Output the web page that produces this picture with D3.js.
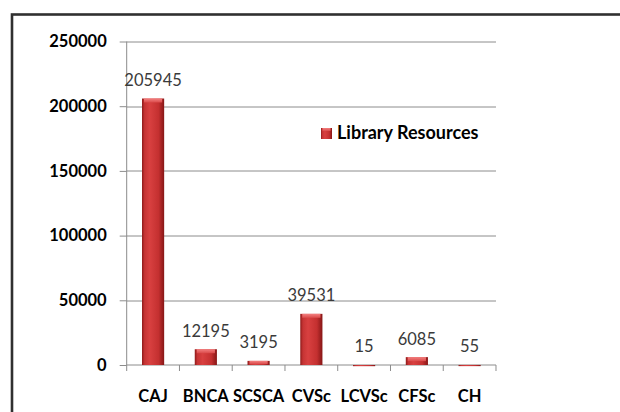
<html>
<head>
<meta charset="utf-8">
<title>Library Resources</title>
<style>
  body { margin: 0; background: #fff; }
  .grid line { stroke: #8c8c8c; stroke-width: 1; }
  .axis path, .axis line { stroke: #8c8c8c; }
  .ylab text, .xlab text { font-family: Lato, sans-serif; font-weight: bold; font-size: 16.5px; fill: #000; }
  .val { font-family: Lato, sans-serif; font-size: 16.5px; fill: #3a3a3a; text-anchor: middle; }
</style>
</head>
<body>
<script src="https://d3js.org/d3.v7.min.js"></script>
<script>
var categories = ["CAJ", "BNCA", "SCSCA", "CVSc", "LCVSc", "CFSc", "CH"];
var values = [205945, 12195, 3195, 39531, 15, 6085, 55];
var yTicks = [0, 50000, 100000, 150000, 200000, 250000];
var seriesName = "Library Resources";

var margin = {top: 41.5, left: 126.7},
    width = 369.3,
    height = 323.5;

var svg = d3.select("body").append("svg")
    .attr("width", 620)
    .attr("height", 412);

// outer frame (runs off the right and bottom of the picture)
svg.append("rect")
    .attr("x", 12).attr("y", 14.5)
    .attr("width", 700).attr("height", 500)
    .attr("fill", "none")
    .attr("stroke", "#303030")
    .attr("stroke-width", 2.6);

var defs = svg.append("defs");
var g1 = defs.append("linearGradient").attr("id", "barGrad")
    .attr("x1", "0").attr("x2", "1").attr("y1", "0").attr("y2", "0");
g1.append("stop").attr("offset", "0").attr("stop-color", "#8e1a1a");
g1.append("stop").attr("offset", "0.12").attr("stop-color", "#c63434");
g1.append("stop").attr("offset", "0.35").attr("stop-color", "#d84040");
g1.append("stop").attr("offset", "0.75").attr("stop-color", "#c43030");
g1.append("stop").attr("offset", "1").attr("stop-color", "#861616");
var g2 = defs.append("linearGradient").attr("id", "capGrad")
    .attr("x1", "0").attr("x2", "0").attr("y1", "0").attr("y2", "1");
g2.append("stop").attr("offset", "0").attr("stop-color", "#f38080");
g2.append("stop").attr("offset", "1").attr("stop-color", "#da4a4a");

var chart = svg.append("g")
    .attr("transform", "translate(" + margin.left + "," + margin.top + ")");

var y = d3.scaleLinear().domain([0, 250000]).range([height, 0]);
var x = d3.scaleBand().domain(categories).range([0, width]).padding(0);
var barW = x.bandwidth() * 0.42;

// gridlines
chart.append("g").attr("class", "grid")
    .selectAll("line")
    .data(yTicks.filter(function(d){ return d > 0; }))
    .enter().append("line")
    .attr("x1", 0).attr("x2", width)
    .attr("y1", function(d){ return Math.round(y(d)) + 0.5; })
    .attr("y2", function(d){ return Math.round(y(d)) + 0.5; });

// y axis
var yAxis = chart.append("g").attr("class", "axis ylab")
    .call(d3.axisLeft(y).tickValues(yTicks).tickSize(7).tickPadding(13).tickFormat(d3.format("d")));
yAxis.select(".domain").remove();
yAxis.append("line")
    .attr("x1", 0).attr("x2", 0)
    .attr("y1", 0).attr("y2", height)
    .attr("stroke", "#8c8c8c");

// x axis baseline and boundary ticks
var xBase = chart.append("g").attr("class", "axis");
xBase.append("line")
    .attr("x1", 0).attr("x2", width)
    .attr("y1", height).attr("y2", height);
xBase.selectAll(".bt")
    .data(categories.concat(["end"]))
    .enter().append("line")
    .attr("class", "bt")
    .attr("x1", function(d){ return d === "end" ? width : x(d); })
    .attr("x2", function(d){ return d === "end" ? width : x(d); })
    .attr("y1", height).attr("y2", height + 6);

var xAxis = chart.append("g").attr("class", "xlab")
    .attr("transform", "translate(0," + height + ")")
    .call(d3.axisBottom(x).tickSize(0));
xAxis.select(".domain").remove();
xAxis.selectAll("text").attr("y", 36.7).attr("dy", 0);

// bars
var bars = chart.selectAll(".bar")
    .data(categories)
    .enter().append("g")
    .attr("class", "bar");

bars.append("rect")
    .attr("x", function(d){ return x(d) + (x.bandwidth() - barW) / 2; })
    .attr("y", function(d, i){ return y(values[i]); })
    .attr("width", barW)
    .attr("height", function(d, i){ return Math.max(height - y(values[i]), 1.2); })
    .attr("fill", "url(#barGrad)");

bars.append("rect")
    .attr("x", function(d){ return x(d) + (x.bandwidth() - barW) / 2 + 2; })
    .attr("y", function(d, i){ return y(values[i]); })
    .attr("width", barW - 4)
    .attr("height", function(d, i){ return Math.min(4, Math.max(height - y(values[i]) - 1, 0)); })
    .attr("fill", "url(#capGrad)");

// value labels
chart.selectAll(".val")
    .data(categories)
    .enter().append("text")
    .attr("class", "val")
    .attr("x", function(d){ return x(d) + x.bandwidth() / 2; })
    .attr("y", function(d, i){ return y(values[i]) - 12.5; })
    .text(function(d, i){ return values[i]; });

// legend
var legend = svg.append("g").attr("transform", "translate(321,128)");
legend.append("rect")
    .attr("width", 11).attr("height", 11)
    .attr("fill", "url(#barGrad)");
legend.append("rect")
    .attr("x", 1.5).attr("width", 8).attr("height", 3)
    .attr("fill", "url(#capGrad)");
legend.append("text")
    .attr("x", 16).attr("y", 11)
    .style("font-family", "Lato, sans-serif")
    .style("font-weight", "bold")
    .style("font-size", "18px")
    .text(seriesName);
</script>
</body>
</html>
